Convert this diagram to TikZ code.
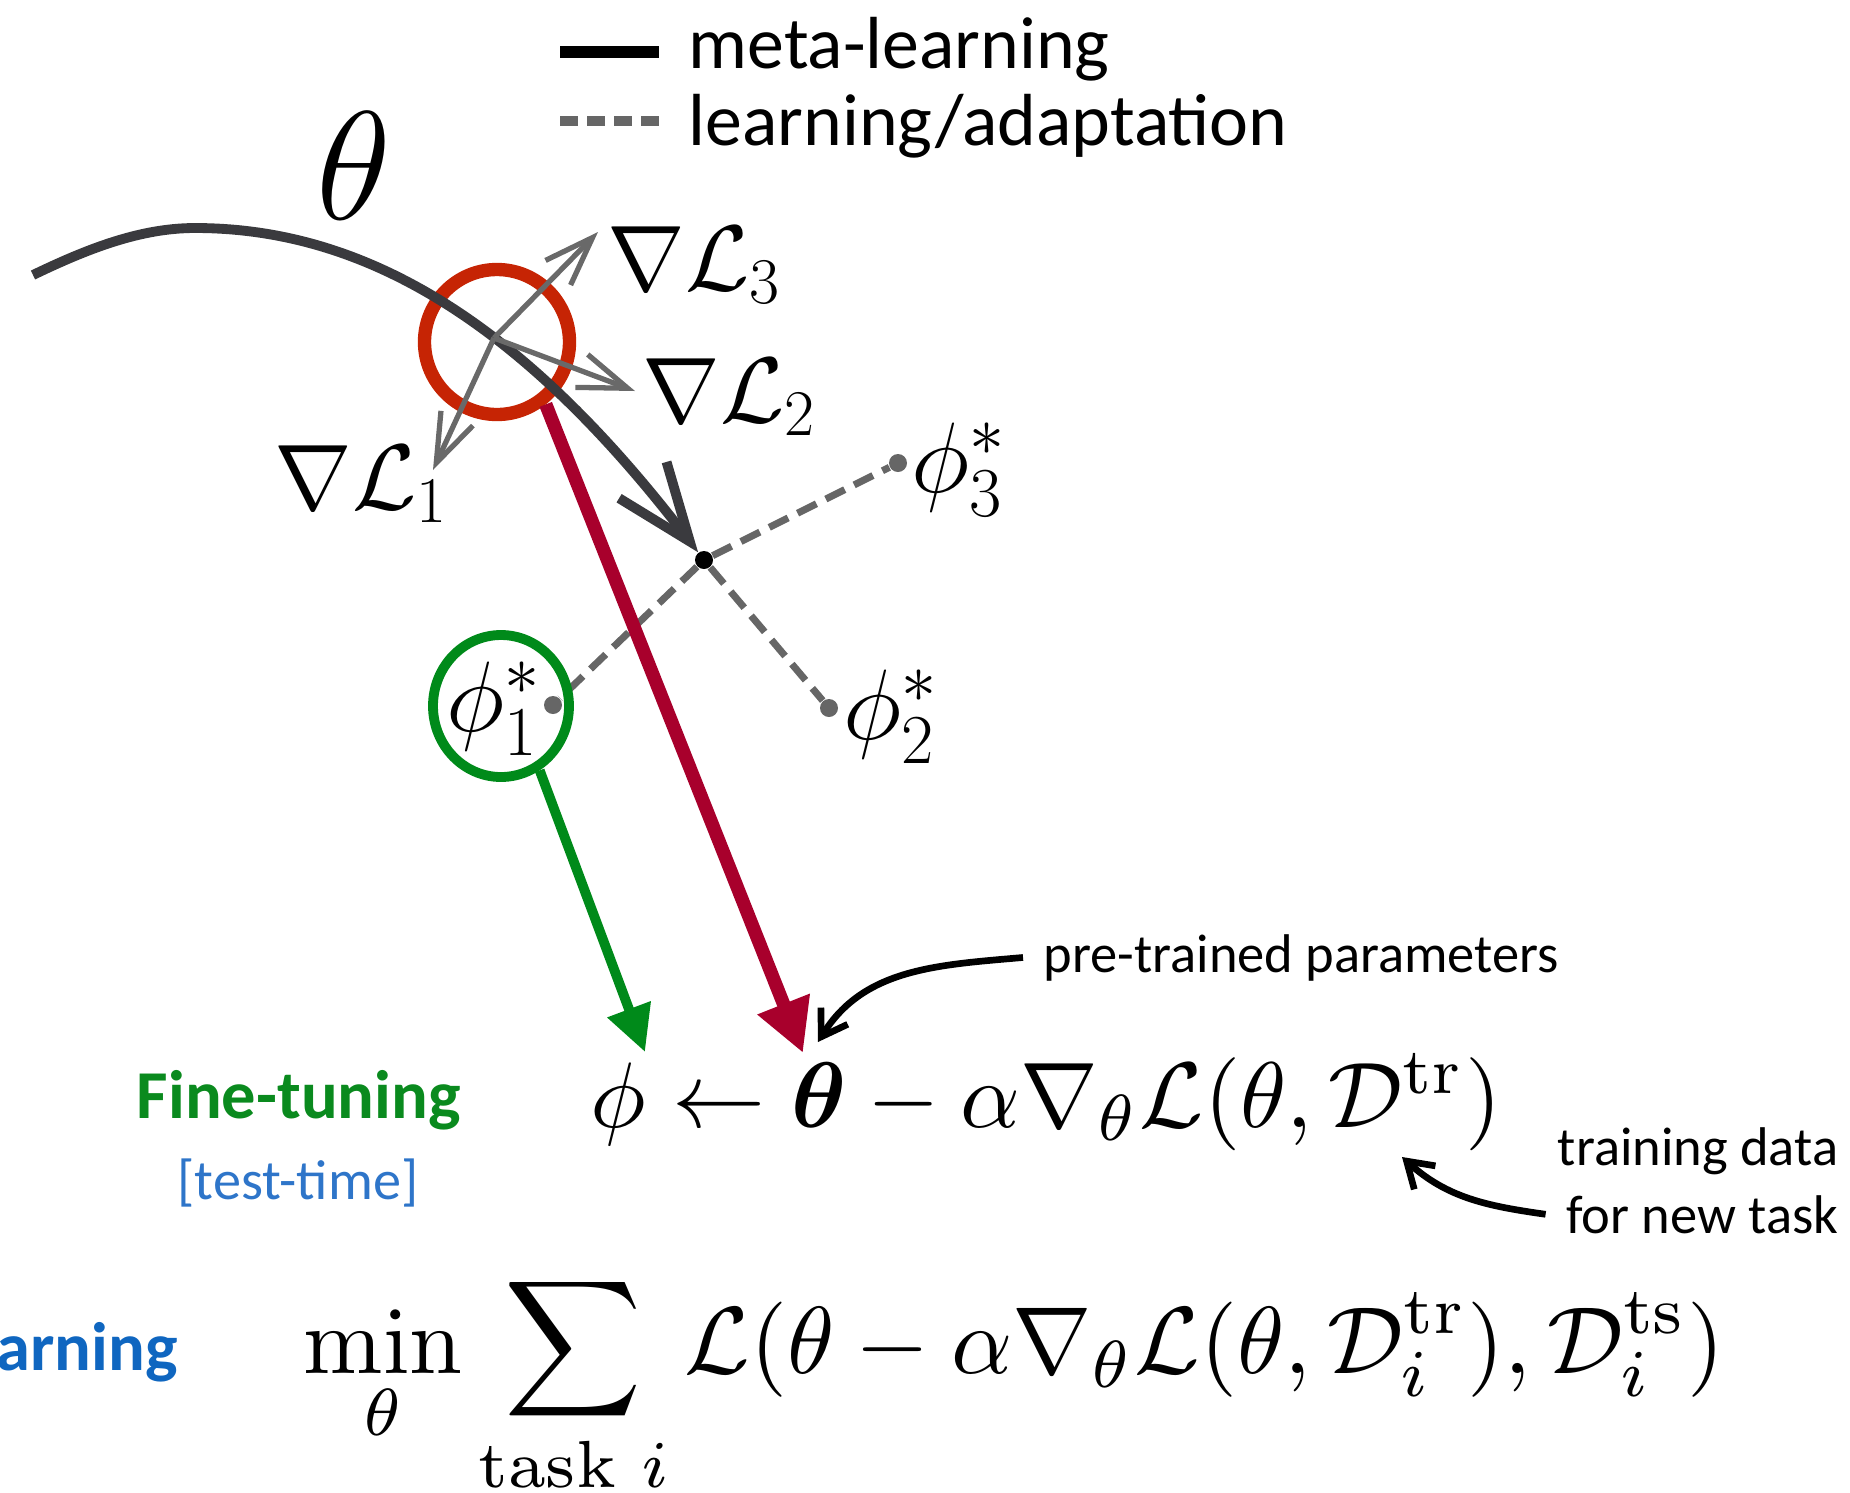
\RequirePackage{fix-cm}
\documentclass[tikz,border=0pt]{standalone}
\usepackage[no-math]{fontspec}
\usepackage{amsmath,bm,graphicx}
\usepackage{tikz}
\usetikzlibrary{arrows.meta,positioning,shapes.geometric}
\newfontfamily\calibri{Carlito}
\definecolor{curvegray}{RGB}{58,58,62}
\definecolor{gradgray}{RGB}{105,105,105}
\definecolor{dashgray}{RGB}{102,102,102}
\definecolor{circred}{RGB}{198,36,4}
\definecolor{arrowred}{RGB}{168,0,44}
\definecolor{tunegreen}{RGB}{0,138,26}
\definecolor{textgreen}{RGB}{10,138,30}
\definecolor{metablue}{RGB}{15,102,192}
\definecolor{testblue}{RGB}{46,117,201}
\newcommand{\eqbig}[2][2.65]{\scalebox{#1}{$#2$}}

\begin{document}
\begin{tikzpicture}[x=0.1mm,y=-0.1mm,every node/.style={inner sep=0pt},
    lbl/.style={anchor=base west,font=\fontsize{26.5}{30}\selectfont},
    note/.style={font=\calibri\fontsize{15.5}{18}\selectfont},
    gradarrow/.style={draw=gradgray,line width=1.5pt,-{Straight Barb[length=14pt,width=10pt]}},
    adapt/.style={draw=dashgray,line width=2pt,dash pattern=on 6pt off 3pt},
    optdot/.style={circle,fill=dashgray,minimum size=1.8mm},
    callout/.style={line width=1.9pt,-{Straight Barb[length=7pt,width=9pt]}}]
  \useasboundingbox (0,0) rectangle (1850,1493);

  % legend
  \draw[line width=3.3pt] (560,52) -- (659,52);
  \draw[adapt,line width=2.6pt,dash pattern=on 5pt off 2.7pt] (560,121) -- (659,121);
  \node[anchor=base west,font=\calibri\fontsize{21}{25}\selectfont] (legmeta) at (688,68) {meta-learning};
  \node[anchor=base west,font=\calibri\fontsize{21}{25}\selectfont] (legadapt) at (688,145) {learning/adaptation};

  % meta-learning path
  \node[circle,draw=circred,line width=3.8pt,minimum size=14.5mm] (rc) at (497,342) {};
  \node[circle,fill=black,minimum size=1.8mm] (theta1) at (704,560) {};
  \coordinate (c0) at (33,275);
  \coordinate (ctop) at (195,228);
  \draw[curvegray,line width=2.8pt,-{Straight Barb[length=22pt,width=17pt]}]
    (c0) .. controls (87,249) and (140,228) .. (ctop)
         .. controls (375,228) and (531,334) .. (theta1);
  \node[anchor=base west,font=\fontsize{44}{50}\selectfont] (thetalbl) at (316,219) {$\theta$};

  % task gradients
  \coordinate (grad0) at (494,338);
  \coordinate (g1tip) at (433,470);
  \coordinate (g2tip) at (635,391);
  \coordinate (g3tip) at (598,232);
  \foreach \g in {1,2,3}
    \draw[gradarrow] (grad0) -- (g\g tip);
  \node[lbl] (gradL3) at (607,290) {$\nabla\mathcal{L}_3$};
  \node[lbl] (gradL2) at (642,422) {$\nabla\mathcal{L}_2$};
  \node[lbl] (gradL1) at (274,509) {$\nabla\mathcal{L}_1$};

  % task optima
  \node[optdot] (phi1dot) at (553,705) {};
  \node[optdot] (phi2dot) at (829,708) {};
  \node[optdot] (phi3dot) at (898,463) {};
  \foreach \k in {1,2,3}
    \draw[adapt] (theta1) -- (phi\k dot);
  \node[lbl,font=\fontsize{28.5}{32}\selectfont] (phi3) at (911,492) {$\phi_3^*$};
  \node[lbl,font=\fontsize{28.5}{32}\selectfont] (phi2) at (843,739) {$\phi_2^*$};
  \node[lbl,font=\fontsize{28.5}{32}\selectfont] (phi1) at (446,731) {$\phi_1^*$};
  \node[ellipse,draw=tunegreen,line width=2.8pt,minimum width=13.6mm,minimum height=14.2mm] (gc) at (501,706) {};

  % fine-tuning update
  \node[anchor=base west] (finetune) at (590,1127)
    {\eqbig{\phi \leftarrow \bm{\theta} - \alpha\nabla_{\theta}\mathcal{L}(\theta,\mathcal{D}^{\mathrm{tr}})}};
  \coordinate (phitip) at (645,1052);
  \coordinate (thetatip) at (803,1053);
  \draw[arrowred,line width=3.8pt,-{Triangle[length=15pt,width=15pt]}] (rc.-52) -- (thetatip);
  \draw[tunegreen,line width=2.8pt,-{Triangle[length=13pt,width=12.5pt]}] (gc.-59) -- (phitip);

  \node[anchor=base west,font=\calibri\bfseries\fontsize{19.5}{23}\selectfont,text=textgreen] (ftlabel) at (136,1118) {Fine-tuning};
  \node[anchor=base west,font=\calibri\fontsize{16}{19}\selectfont,text=testblue] (testtime) at (177,1199) {[test-time]};

  \node[anchor=base west,note] (pretr) at (1043,972) {pre-trained parameters};
  \coordinate (pretip) at (818,1042);
  \draw[callout] ([xshift=-2mm]pretr.west) to[out=185,in=58] (pretip);

  \node[anchor=base east,note] (task1) at (1839,1165) {training data};
  \node[anchor=base east,note] (task2) at (1839,1233) {for new task};
  \coordinate (dtip) at (1402,1157);
  \draw[callout] ([xshift=-2mm]task2.west) to[out=172,in=-42] (dtip);

  % meta-learning objective
  \node[anchor=base west,font=\calibri\bfseries\fontsize{19.5}{23}\selectfont,text=metablue] (mllabel) at (-4,1370) {arning};
  \node[anchor=base west] (metaobj) at (303,1373)
    {\eqbig[2.71]{\displaystyle\min_{\theta}\sum_{\text{task }i}\mathcal{L}(\theta-\alpha\nabla_{\theta}\mathcal{L}(\theta,\mathcal{D}_i^{\mathrm{tr}}),\mathcal{D}_i^{\mathrm{ts}})}};
\end{tikzpicture}
\end{document}
